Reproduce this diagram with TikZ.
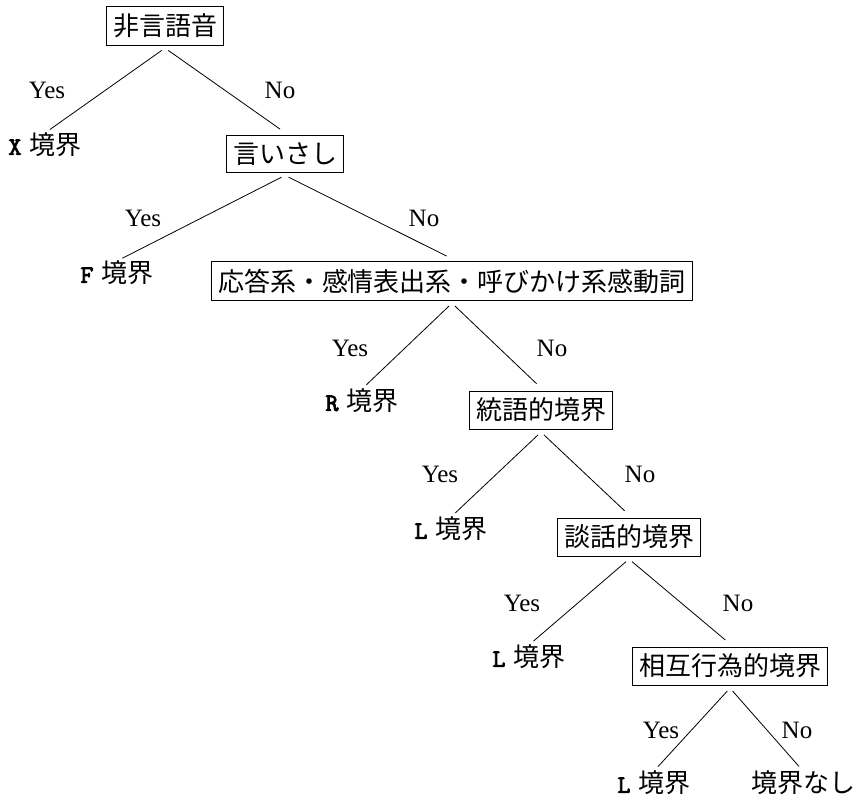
\documentclass[tikz,border=0pt]{standalone}
\usepackage{fontspec}
\setmainfont{Liberation Serif}
\newfontfamily\jpfont{Noto Sans CJK JP}
\newfontfamily\ltrfont{Latin Modern Mono}[FakeBold=3.5]
\newcommand{\bnd}[1]{{\fontsize{12.5}{14}\selectfont\ltrfont #1}\hspace{4pt}境界}
\tikzset{
  qbox/.style={draw, inner xsep=3.25pt, inner ysep=3.5pt, outer sep=1.5pt,
    font=\fontsize{13}{15}\selectfont\jpfont},
  leaf/.style={inner sep=0pt, outer sep=0pt, font=\fontsize{13}{15}\selectfont\jpfont},
  ans/.style={font=\fontsize{12.5}{14}\selectfont},
  branch/.style={shorten <=2pt, shorten >=3pt}
}
\begin{document}
\begin{tikzpicture}[x=0.5pt, y=-0.5pt]
  \useasboundingbox (0,0) rectangle (858,798);

  \node[qbox] (q1) at (165,26) {非言語音};
  \node[leaf] (l1) at (45,145) {\bnd{X}};
  \node[qbox] (q2) at (285,154) {言いさし};
  \node[leaf] (l2) at (117,273) {\bnd{F}};
  \node[qbox] (q3) at (452,281) {応答系・感情表出系・呼びかけ系感動詞};
  \node[leaf] (l3) at (362,401) {\bnd{R}};
  \node[qbox] (q4) at (541,410) {統語的境界};
  \node[leaf] (l4) at (451,529) {\bnd{L}};
  \node[qbox] (q5) at (629,537) {談話的境界};
  \node[leaf] (l5) at (529,657) {\bnd{L}};
  \node[qbox] (q6) at (730,666) {相互行為的境界};
  \node[leaf] (l6) at (654,783) {\bnd{L}};
  \node[leaf] (l7) at (803,783) {境界なし};

  \node[ans] (y1) at (47,90) {Yes};
  \node[ans] (n1) at (280,90) {No};
  \node[ans] (y2) at (143,218) {Yes};
  \node[ans] (n2) at (424,218) {No};
  \node[ans] (y3) at (350,348) {Yes};
  \node[ans] (n3) at (552,348) {No};
  \node[ans] (y4) at (440,474) {Yes};
  \node[ans] (n4) at (640,474) {No};
  \node[ans] (y5) at (522,603) {Yes};
  \node[ans] (n5) at (738,603) {No};
  \node[ans] (y6) at (661,730) {Yes};
  \node[ans] (n6) at (797,730) {No};

  \draw[branch] (q1.south) -- (l1.north);
  \draw[branch] (q1.south) -- (q2.north);
  \draw[branch] (q2.south) -- (l2.north);
  \draw[branch] (q2.south) -- (q3.north);
  \draw[branch] (q3.south) -- (l3.north);
  \draw[branch] (q3.south) -- (q4.north);
  \draw[branch] (q4.south) -- (l4.north);
  \draw[branch] (q4.south) -- (q5.north);
  \draw[branch] (q5.south) -- (l5.north);
  \draw[branch] (q5.south) -- (q6.north);
  \draw[branch] (q6.south) -- (l6.north);
  \draw[branch] (q6.south) -- (l7.north);
\end{tikzpicture}
\end{document}
